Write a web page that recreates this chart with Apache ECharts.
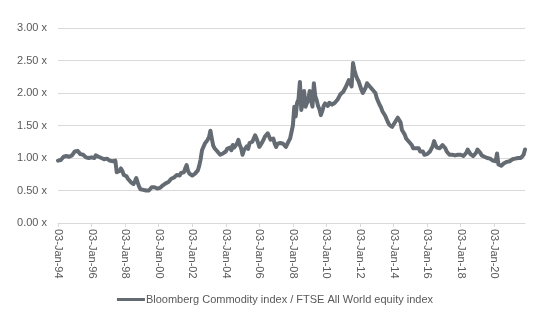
<!DOCTYPE html>
<html>
<head>
<meta charset="utf-8">
<script src="https://cdn.jsdelivr.net/npm/echarts@6/dist/echarts.min.js"></script>
<style>html,body{margin:0;padding:0;background:#fff}#c{width:550px;height:330px}</style>
</head>
<body>
<div id="c"></div>
<script>
var seriesName = 'Bloomberg Commodity index / FTSE All World equity index';
var startYear = 1994;
var monthNames = ['Jan','Feb','Mar','Apr','May','Jun','Jul','Aug','Sep','Oct','Nov','Dec'];
var yTicks = [0, 0.5, 1, 1.5, 2, 2.5, 3];

var v1994 = [0.96,0.98,0.97,1.00,1.02,1.05,1.03,1.06,1.02,1.01,1.04,1.06];
var v1995 = [1.10,1.13,1.11,1.08,1.06,1.04,1.05,1.02,1.01,1.03,1.00,1.02];
var v1996 = [1.01,1.03,1.00,1.04,1.06,1.02,1.05,1.00,1.01,0.98,1.00,0.99];
var v1997 = [0.98,0.96,0.97,0.95,0.94,0.96,0.78,0.76,0.80,0.84,0.80,0.74];
var v1998 = [0.71,0.72,0.68,0.65,0.63,0.61,0.60,0.64,0.69,0.62,0.56,0.52];
var v1999 = [0.50,0.51,0.50,0.50,0.52,0.50,0.53,0.55,0.57,0.55,0.54,0.53];
var v2000 = [0.52,0.54,0.56,0.58,0.57,0.61,0.60,0.63,0.66,0.68,0.71,0.70];
var v2001 = [0.72,0.74,0.76,0.73,0.77,0.75,0.78,0.84,0.89,0.80,0.76,0.74];
var v2002 = [0.73,0.74,0.76,0.78,0.81,0.88,0.98,1.12,1.17,1.22,1.20,1.28];
var v2003 = [1.32,1.42,1.30,1.19,1.15,1.12,1.10,1.08,1.05,1.08,1.07,1.10];
var v2004 = [1.10,1.14,1.12,1.16,1.12,1.20,1.16,1.18,1.22,1.28,1.20,1.15];
var v2005 = [1.05,1.12,1.15,1.18,1.14,1.23,1.20,1.25,1.28,1.35,1.30,1.24];
var v2006 = [1.17,1.20,1.24,1.28,1.33,1.30,1.38,1.33,1.28,1.25,1.30,1.22];
var v2007 = [1.17,1.22,1.20,1.23,1.26,1.22,1.20,1.17,1.20,1.26,1.30,1.33];
var v2008 = [1.50,1.79,1.64,1.85,1.90,2.17,1.74,1.85,2.03,1.79,1.82,1.90];
var v2009 = [2.03,1.88,1.79,2.15,1.95,1.89,1.80,1.75,1.66,1.72,1.80,1.84];
var v2010 = [1.84,1.80,1.85,1.87,1.82,1.79,1.85,1.88,1.90,1.94,1.98,2.00];
var v2011 = [2.02,2.05,2.10,2.15,2.20,2.18,2.10,2.46,2.35,2.28,2.22,2.18];
var v2012 = [2.15,2.05,2.00,1.97,2.08,2.15,2.12,2.10,2.08,2.05,2.03,2.00];
var v2013 = [1.92,1.87,1.82,1.78,1.72,1.69,1.65,1.60,1.55,1.51,1.50,1.48];
var v2014 = [1.48,1.55,1.58,1.62,1.60,1.55,1.43,1.40,1.36,1.30,1.27,1.25];
var v2015 = [1.25,1.20,1.15,1.18,1.15,1.12,1.15,1.10,1.08,1.10,1.05,1.04];
var v2016 = [1.06,1.04,1.10,1.14,1.18,1.26,1.20,1.16,1.13,1.15,1.18,1.20];
var v2017 = [1.20,1.15,1.10,1.08,1.05,1.07,1.05,1.06,1.04,1.03,1.05,1.04];
var v2018 = [1.05,1.03,1.03,1.05,1.08,1.13,1.10,1.06,1.04,1.03,1.06,1.08];
var v2019 = [1.13,1.10,1.08,1.04,1.05,1.02,1.03,1.00,1.01,0.99,0.98,0.96];
var v2020 = [0.94,0.95,1.07,0.90,0.87,0.88,0.90,0.92,0.91,0.94,0.92,0.95];
var v2021 = [0.96,0.98,0.97,0.99,1.02,1.00,1.01,1.00,1.00,1.05,1.13];

var yearly = [v1994,v1995,v1996,v1997,v1998,v1999,v2000,v2001,v2002,v2003,v2004,v2005,v2006,v2007,
  v2008,v2009,v2010,v2011,v2012,v2013,v2014,v2015,v2016,v2017,v2018,v2019,v2020,v2021];

var categories = [];
var values = [];
yearly.forEach(function (arr, yi) {
  var yy = String((startYear + yi) % 100).padStart(2, '0');
  arr.forEach(function (v, mi) {
    categories.push('03-' + monthNames[mi] + '-' + yy);
    values.push(v);
  });
});

var chart = echarts.init(document.getElementById('c'), null, {renderer: 'canvas'});
var font = 'Liberation Sans, Arial, sans-serif';
chart.setOption({
  animation: false,
  backgroundColor: '#ffffff',
  grid: {left: 58, right: 25, top: 28, bottom: 107, containLabel: false},
  legend: {
    bottom: 20,
    left: 'center',
    itemWidth: 28,
    itemHeight: 3,
    itemGap: 0,
    icon: 'rect',
    textStyle: {color: '#595959', fontSize: 11, fontFamily: font, padding: [0,0,0,-4]},
    data: [seriesName]
  },
  xAxis: {
    type: 'category',
    data: categories,
    boundaryGap: false,
    axisLine: {lineStyle: {color: '#d9d9d9', width: 1}},
    axisTick: {show: true, interval: 23, length: 4, lineStyle: {color: '#d9d9d9'}},
    axisLabel: {interval: 23, rotate: -90, color: '#595959', fontSize: 11, fontFamily: font, margin: 6},
    splitLine: {show: false}
  },
  yAxis: {
    type: 'value',
    min: yTicks[0],
    max: yTicks[yTicks.length - 1],
    interval: 0.5,
    axisLine: {show: false},
    axisTick: {show: false},
    axisLabel: {color: '#595959', fontSize: 11, fontFamily: font, margin: 11,
      formatter: function (v) { return v.toFixed(2) + ' x'; }},
    splitLine: {lineStyle: {color: '#d9d9d9', width: 1}}
  },
  series: [{
    name: seriesName,
    type: 'line',
    data: values,
    showSymbol: false,
    symbol: 'none',
    lineStyle: {color: '#646b73', width: 4, cap: 'round', join: 'round'},
    itemStyle: {color: '#646b73'}
  }]
});
</script>
</body>
</html>
